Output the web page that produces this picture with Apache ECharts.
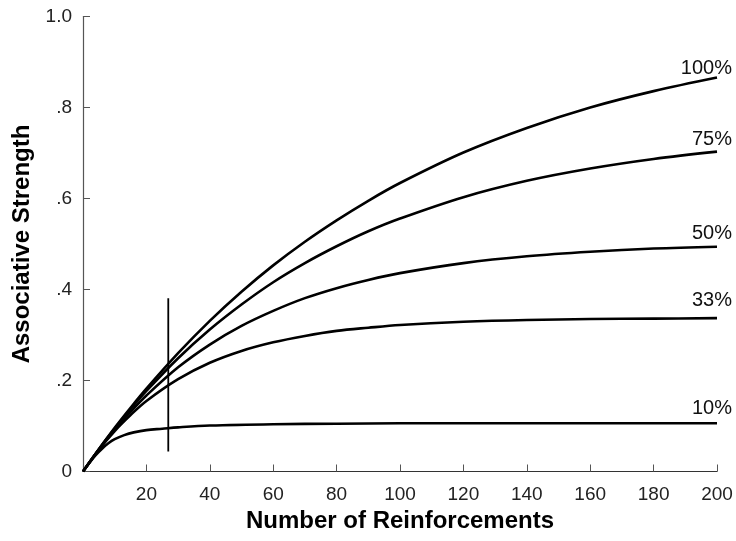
<!DOCTYPE html>
<html>
<head>
<meta charset="utf-8">
<script src="https://cdn.jsdelivr.net/npm/echarts@6/dist/echarts.min.js"></script>
<style>
  html, body { margin: 0; padding: 0; background: #fff; }
  #chart { width: 736px; height: 541px; }
</style>
</head>
<body>
<div id="chart"></div>
<script>
const xs = [0, 5, 10, 15, 20, 30, 40, 50, 60, 70, 80, 90, 100, 120, 140, 160, 180, 200];
const s100 = [0, 0.049, 0.096, 0.140, 0.182, 0.260, 0.331, 0.395, 0.453, 0.505, 0.552, 0.595, 0.634, 0.701, 0.755, 0.800, 0.836, 0.866];
const s75 = [0, 0.049, 0.094, 0.137, 0.177, 0.249, 0.312, 0.367, 0.416, 0.458, 0.495, 0.528, 0.556, 0.603, 0.639, 0.666, 0.687, 0.703];
const s50 = [0, 0.048, 0.092, 0.131, 0.167, 0.229, 0.279, 0.320, 0.353, 0.381, 0.403, 0.421, 0.436, 0.458, 0.473, 0.483, 0.490, 0.494];
const s33 = [0, 0.048, 0.089, 0.124, 0.155, 0.203, 0.239, 0.265, 0.284, 0.298, 0.309, 0.316, 0.322, 0.329, 0.333, 0.335, 0.336, 0.337];
const xs10 = [0, 2, 4, 6, 8, 10, 13, 16, 20, 25, 30, 40, 60, 80, 100, 120, 140, 160, 180, 200];
const s10 = [0, 0.019, 0.036, 0.050, 0.062, 0.071, 0.080, 0.086, 0.091, 0.094, 0.097, 0.101, 0.104, 0.105, 0.106, 0.106, 0.106, 0.106, 0.106, 0.106];

// vertical marker line
const markerX = 26.9;
const markerY = [0.044, 0.381];

const labels = ['100%', '75%', '50%', '33%', '10%'];
const labelDy = [5, 2, 1, -4, -1];

const FONT = 'Liberation Sans, Arial, sans-serif';

function pairs(x, y) {
  return x.map((v, i) => [v, y[i]]);
}

function curve(name, data, dy) {
  const last = data[data.length - 1];
  return {
    name: name,
    type: 'line',
    data: data,
    smooth: 0.35,
    showSymbol: false,
    lineStyle: { color: '#000', width: 2.6 },
    markPoint: {
      symbol: 'circle',
      symbolSize: 0,
      silent: true,
      itemStyle: { color: 'transparent' },
      label: {
        show: true,
        position: 'top',
        align: 'right',
        offset: [15, dy + 1],
        formatter: name,
        color: '#111',
        fontSize: 20,
        fontFamily: FONT
      },
      data: [{ coord: last }]
    }
  };
}

const chart = echarts.init(document.getElementById('chart'));

const option = {
  animation: false,
  grid: { left: 83, right: 19, top: 16.5, bottom: 69.5 },
  xAxis: {
    type: 'value',
    min: 0,
    max: 200,
    interval: 20,
    name: 'Number of Reinforcements',
    nameLocation: 'middle',
    nameGap: 38,
    nameTextStyle: { fontSize: 24, fontWeight: 'bold', color: '#000', fontFamily: FONT },
    axisLine: { lineStyle: { color: '#333', width: 1.2 } },
    axisTick: { inside: true, length: 7, lineStyle: { color: '#555' } },
    axisLabel: {
      margin: 14,
      fontSize: 19,
      color: '#222',
      fontFamily: FONT,
      formatter: v => (v === 0 ? '' : String(v))
    },
    splitLine: { show: false }
  },
  yAxis: {
    type: 'value',
    min: 0,
    max: 1,
    interval: 0.2,
    name: 'Associative Strength',
    nameLocation: 'middle',
    nameGap: 48,
    nameTextStyle: { fontSize: 24, fontWeight: 'bold', color: '#000', fontFamily: FONT },
    axisLine: { show: true, lineStyle: { color: '#555', width: 1.2 } },
    axisTick: { show: true, inside: true, length: 7, lineStyle: { color: '#555' } },
    axisLabel: {
      margin: 11,
      fontSize: 19,
      color: '#222',
      fontFamily: FONT,
      formatter: v => {
        if (v === 0) return '0';
        if (Math.abs(v - 1) < 1e-9) return '1.0';
        return '.' + Math.round(v * 10);
      }
    },
    splitLine: { show: false }
  },
  series: [
    curve(labels[0], pairs(xs, s100), labelDy[0]),
    curve(labels[1], pairs(xs, s75), labelDy[1]),
    curve(labels[2], pairs(xs, s50), labelDy[2]),
    curve(labels[3], pairs(xs, s33), labelDy[3]),
    curve(labels[4], pairs(xs10, s10), labelDy[4]),
    {
      name: 'marker',
      type: 'line',
      data: [[markerX, markerY[0]], [markerX, markerY[1]]],
      showSymbol: false,
      lineStyle: { color: '#000', width: 1.8 }
    }
  ]
};

chart.setOption(option);
window.addEventListener('resize', () => chart.resize());
</script>
</body>
</html>
